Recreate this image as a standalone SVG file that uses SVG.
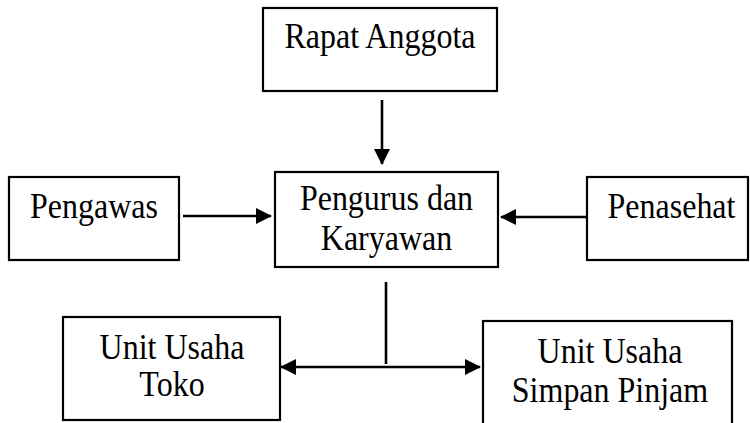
<svg xmlns="http://www.w3.org/2000/svg" width="750" height="423" viewBox="0 0 750 423">
<style>
.box{fill:#fff;stroke:#000;stroke-width:2.2}
.lbl{font-family:"Liberation Serif","Times New Roman",serif;font-size:32px;fill:#000;text-anchor:middle}
.con{stroke:#000;stroke-width:2.6;fill:none}
</style>
<defs>
<marker id="ah" markerUnits="userSpaceOnUse" markerWidth="16" markerHeight="16" refX="15" refY="8" orient="auto-start-reverse" viewBox="0 0 16 16">
<path d="M0,0 L16,8 L0,16 z" fill="#000"/>
</marker>
</defs>
<rect width="750" height="423" fill="#fff"/>
<g id="rapat-anggota">
<rect class="box" x="263" y="8" width="234" height="83"/>
<text class="lbl" transform="translate(380,48) scale(1,1.13)">Rapat Anggota</text>
</g>
<g id="pengurus">
<rect class="box" x="275" y="172" width="223" height="95"/>
<text class="lbl" transform="translate(386.5,210) scale(1,1.13)">Pengurus dan</text>
<text class="lbl" transform="translate(386.5,250) scale(1,1.13)">Karyawan</text>
</g>
<g id="pengawas">
<rect class="box" x="9" y="177" width="170" height="83"/>
<text class="lbl" transform="translate(94,218) scale(1,1.13)">Pengawas</text>
</g>
<g id="penasehat">
<rect class="box" x="587" y="177" width="161" height="83"/>
<text class="lbl" transform="translate(671.5,218) scale(1,1.13)">Penasehat</text>
</g>
<g id="unit-toko">
<rect class="box" x="63" y="317" width="217" height="103"/>
<text class="lbl" transform="translate(172,359) scale(1,1.13)">Unit Usaha</text>
<text class="lbl" transform="translate(172,396) scale(1,1.13)">Toko</text>
</g>
<g id="unit-simpan-pinjam">
<rect class="box" x="483" y="321" width="249" height="110"/>
<text class="lbl" transform="translate(610,363) scale(1,1.13)">Unit Usaha</text>
<text class="lbl" transform="translate(610,402) scale(1,1.13)">Simpan Pinjam</text>
</g>
<g id="connectors">
<line class="con" x1="382" y1="100" x2="382" y2="164" marker-end="url(#ah)"/>
<line class="con" x1="183" y1="216" x2="271" y2="216" marker-end="url(#ah)"/>
<line class="con" x1="587" y1="217" x2="501" y2="217" marker-end="url(#ah)"/>
<line class="con" x1="386" y1="282" x2="386" y2="364" stroke-width="3"/>
<line class="con" x1="281" y1="367" x2="480" y2="367" marker-start="url(#ah)" marker-end="url(#ah)"/>
</g>
</svg>
